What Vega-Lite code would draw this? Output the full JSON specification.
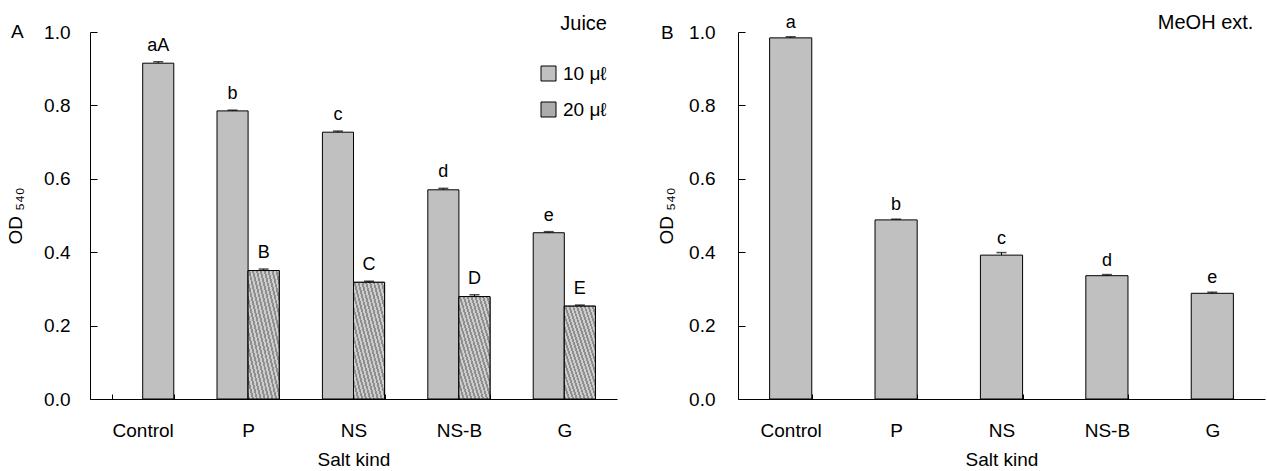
{
  "$schema": "https://vega.github.io/schema/vega-lite/v6.json",
  "autosize": {"type": "none"},
  "padding": {"left": 90, "top": 32, "right": 1177, "bottom": 439},
  "background": "white",
  "bounds": "flush",
  "spacing": 121,
  "datasets": {
    "juice": [
      {"salt": "Control", "juice": "10 μℓ", "slot": "2", "od": 0.915, "err": 0.004, "letter": "aA"},
      {"salt": "P", "juice": "10 μℓ", "slot": "1", "od": 0.785, "err": 0.002, "letter": "b"},
      {"salt": "P", "juice": "20 μℓ", "slot": "2", "od": 0.350, "err": 0.004, "letter": "B"},
      {"salt": "NS", "juice": "10 μℓ", "slot": "1", "od": 0.727, "err": 0.003, "letter": "c"},
      {"salt": "NS", "juice": "20 μℓ", "slot": "2", "od": 0.318, "err": 0.003, "letter": "C"},
      {"salt": "NS-B", "juice": "10 μℓ", "slot": "1", "od": 0.570, "err": 0.004, "letter": "d"},
      {"salt": "NS-B", "juice": "20 μℓ", "slot": "2", "od": 0.279, "err": 0.005, "letter": "D"},
      {"salt": "G", "juice": "10 μℓ", "slot": "1", "od": 0.453, "err": 0.003, "letter": "e"},
      {"salt": "G", "juice": "20 μℓ", "slot": "2", "od": 0.253, "err": 0.003, "letter": "E"}
    ],
    "meoh": [
      {"salt": "Control", "od": 0.984, "err": 0.003, "letter": "a"},
      {"salt": "P", "od": 0.488, "err": 0.002, "letter": "b"},
      {"salt": "NS", "od": 0.392, "err": 0.007, "letter": "c"},
      {"salt": "NS-B", "od": 0.336, "err": 0.003, "letter": "d"},
      {"salt": "G", "od": 0.288, "err": 0.003, "letter": "e"}
    ],
    "note": [{"salt": "G", "od": 1, "label": "MeOH ext."}]
  },
  "config": {
    "font": "Liberation Sans",
    "view": {"stroke": null},
    "axis": {
      "domainColor": "black", "tickColor": "black", "labelColor": "black", "titleColor": "black",
      "labelFontSize": 19, "titleFontSize": 19, "titleFontWeight": "normal", "grid": false,
      "domainWidth": 1, "tickWidth": 1
    },
    "title": {"fontSize": 19, "fontWeight": "normal", "color": "black"},
    "legend": {"labelFontSize": 19, "titleFontSize": 20, "titleFontWeight": "normal", "labelColor": "black", "titleColor": "black"}
  },
  "hconcat": [
    {
      "width": 527,
      "height": 367,
      "title": {"text": "A", "anchor": "start", "frame": "group", "dx": -79, "dy": 27, "offset": -7, "baseline": "alphabetic"},
      "data": {"name": "juice"},
      "encoding": {
        "x": {
          "field": "salt", "type": "nominal", "sort": ["Control", "P", "NS", "NS-B", "G"],
          "scale": {"paddingInner": 0.41, "paddingOuter": 0.205},
          "axis": {"title": "Salt kind", "labelAngle": 0, "tickBand": "extent", "tickSize": -5, "labelPadding": 27, "titlePadding": 10}
        },
        "xOffset": {"field": "slot", "type": "nominal", "scale": {"domain": ["1", "2"], "paddingInner": 0, "paddingOuter": 0}},
        "y": {
          "field": "od", "type": "quantitative", "scale": {"domain": [0, 1]},
          "axis": {"title": "OD ₅₄₀", "values": [0, 0.2, 0.4, 0.6, 0.8, 1], "format": ".1f", "tickSize": -7, "labelPadding": 27, "titlePadding": 18}
        }
      },
      "layer": [
        {
          "mark": {"type": "bar", "stroke": "black", "strokeWidth": 1},
          "encoding": {
            "color": {
              "field": "juice", "type": "nominal",
              "scale": {"domain": ["10 μℓ", "20 μℓ"], "range": ["#c0c0c0", "#acacac"]},
              "legend": {
                "orient": "none", "legendX": 449, "legendY": -18, "title": "Juice", "titleAnchor": "end",
                "symbolType": "square", "symbolSize": 225, "symbolStrokeColor": "black", "symbolStrokeWidth": 1,
                "rowPadding": 16, "titlePadding": 30, "labelOffset": 5
              }
            }
          }
        },
        {
          "transform": [{"filter": "datum.juice == '20 μℓ'"}],
          "mark": {
            "type": "bar", "stroke": "black", "strokeWidth": 1,
            "fill": {
              "gradient": "linear", "x1": 1, "y1": 0, "x2": 0, "y2": 1,
              "stops": [
                {"offset": 0, "color": "#cdcdcd"}, {"offset": 0.03125, "color": "#cdcdcd"},
                {"offset": 0.03125, "color": "#8f8f8f"}, {"offset": 0.0625, "color": "#8f8f8f"},
                {"offset": 0.0625, "color": "#cdcdcd"}, {"offset": 0.09375, "color": "#cdcdcd"},
                {"offset": 0.09375, "color": "#8f8f8f"}, {"offset": 0.125, "color": "#8f8f8f"},
                {"offset": 0.125, "color": "#cdcdcd"}, {"offset": 0.15625, "color": "#cdcdcd"},
                {"offset": 0.15625, "color": "#8f8f8f"}, {"offset": 0.1875, "color": "#8f8f8f"},
                {"offset": 0.1875, "color": "#cdcdcd"}, {"offset": 0.21875, "color": "#cdcdcd"},
                {"offset": 0.21875, "color": "#8f8f8f"}, {"offset": 0.25, "color": "#8f8f8f"},
                {"offset": 0.25, "color": "#cdcdcd"}, {"offset": 0.28125, "color": "#cdcdcd"},
                {"offset": 0.28125, "color": "#8f8f8f"}, {"offset": 0.3125, "color": "#8f8f8f"},
                {"offset": 0.3125, "color": "#cdcdcd"}, {"offset": 0.34375, "color": "#cdcdcd"},
                {"offset": 0.34375, "color": "#8f8f8f"}, {"offset": 0.375, "color": "#8f8f8f"},
                {"offset": 0.375, "color": "#cdcdcd"}, {"offset": 0.40625, "color": "#cdcdcd"},
                {"offset": 0.40625, "color": "#8f8f8f"}, {"offset": 0.4375, "color": "#8f8f8f"},
                {"offset": 0.4375, "color": "#cdcdcd"}, {"offset": 0.46875, "color": "#cdcdcd"},
                {"offset": 0.46875, "color": "#8f8f8f"}, {"offset": 0.5, "color": "#8f8f8f"},
                {"offset": 0.5, "color": "#cdcdcd"}, {"offset": 0.53125, "color": "#cdcdcd"},
                {"offset": 0.53125, "color": "#8f8f8f"}, {"offset": 0.5625, "color": "#8f8f8f"},
                {"offset": 0.5625, "color": "#cdcdcd"}, {"offset": 0.59375, "color": "#cdcdcd"},
                {"offset": 0.59375, "color": "#8f8f8f"}, {"offset": 0.625, "color": "#8f8f8f"},
                {"offset": 0.625, "color": "#cdcdcd"}, {"offset": 0.65625, "color": "#cdcdcd"},
                {"offset": 0.65625, "color": "#8f8f8f"}, {"offset": 0.6875, "color": "#8f8f8f"},
                {"offset": 0.6875, "color": "#cdcdcd"}, {"offset": 0.71875, "color": "#cdcdcd"},
                {"offset": 0.71875, "color": "#8f8f8f"}, {"offset": 0.75, "color": "#8f8f8f"},
                {"offset": 0.75, "color": "#cdcdcd"}, {"offset": 0.78125, "color": "#cdcdcd"},
                {"offset": 0.78125, "color": "#8f8f8f"}, {"offset": 0.8125, "color": "#8f8f8f"},
                {"offset": 0.8125, "color": "#cdcdcd"}, {"offset": 0.84375, "color": "#cdcdcd"},
                {"offset": 0.84375, "color": "#8f8f8f"}, {"offset": 0.875, "color": "#8f8f8f"},
                {"offset": 0.875, "color": "#cdcdcd"}, {"offset": 0.90625, "color": "#cdcdcd"},
                {"offset": 0.90625, "color": "#8f8f8f"}, {"offset": 0.9375, "color": "#8f8f8f"},
                {"offset": 0.9375, "color": "#cdcdcd"}, {"offset": 0.96875, "color": "#cdcdcd"},
                {"offset": 0.96875, "color": "#8f8f8f"}, {"offset": 1, "color": "#8f8f8f"}
              ]
            }
          }
        },
        {
          "transform": [{"calculate": "datum.od + datum.err", "as": "top"}],
          "mark": {"type": "rule", "color": "black", "strokeWidth": 1},
          "encoding": {"y2": {"field": "top"}}
        },
        {
          "transform": [{"calculate": "datum.od + datum.err", "as": "top"}],
          "mark": {"type": "tick", "color": "black", "size": 10, "thickness": 1.5},
          "encoding": {"y": {"field": "top", "type": "quantitative"}}
        },
        {
          "transform": [{"calculate": "datum.od + datum.err", "as": "top"}],
          "mark": {"type": "text", "fontSize": 18, "baseline": "alphabetic", "dy": -11, "color": "black"},
          "encoding": {"y": {"field": "top", "type": "quantitative"}, "text": {"field": "letter"}}
        }
      ]
    },
    {
      "width": 527,
      "height": 367,
      "title": {"text": "B", "anchor": "start", "frame": "group", "dx": -77, "dy": 37, "offset": -8, "baseline": "alphabetic"},
      "encoding": {
        "x": {
          "field": "salt", "type": "nominal", "sort": ["Control", "P", "NS", "NS-B", "G"],
          "scale": {"paddingInner": 0.6, "paddingOuter": 0.3},
          "axis": {"title": "Salt kind", "labelAngle": 0, "tickBand": "extent", "tickSize": -5, "labelPadding": 27, "titlePadding": 10}
        },
        "y": {
          "field": "od", "type": "quantitative", "scale": {"domain": [0, 1]},
          "axis": {"title": "OD ₅₄₀", "values": [0, 0.2, 0.4, 0.6, 0.8, 1], "format": ".1f", "tickSize": -7, "labelPadding": 30, "titlePadding": 12}
        }
      },
      "layer": [
        {
          "data": {"name": "meoh"},
          "mark": {"type": "bar", "stroke": "black", "strokeWidth": 1, "fill": "#c0c0c0"}
        },
        {
          "data": {"name": "meoh"},
          "transform": [{"calculate": "datum.od + datum.err", "as": "top"}],
          "mark": {"type": "rule", "color": "black", "strokeWidth": 1},
          "encoding": {"y2": {"field": "top"}}
        },
        {
          "data": {"name": "meoh"},
          "transform": [{"calculate": "datum.od + datum.err", "as": "top"}],
          "mark": {"type": "tick", "color": "black", "size": 10, "thickness": 1.5},
          "encoding": {"y": {"field": "top", "type": "quantitative"}}
        },
        {
          "data": {"name": "meoh"},
          "transform": [{"calculate": "datum.od + datum.err", "as": "top"}],
          "mark": {"type": "text", "fontSize": 18, "baseline": "alphabetic", "dy": -9, "color": "black"},
          "encoding": {"y": {"field": "top", "type": "quantitative"}, "text": {"field": "letter"}}
        },
        {
          "data": {"name": "note"},
          "mark": {"type": "text", "fontSize": 20, "baseline": "alphabetic", "align": "right", "dx": 20, "dy": -3, "color": "black"},
          "encoding": {"x": {"field": "salt", "type": "nominal", "bandPosition": 1}, "text": {"field": "label"}}
        }
      ]
    }
  ]
}
